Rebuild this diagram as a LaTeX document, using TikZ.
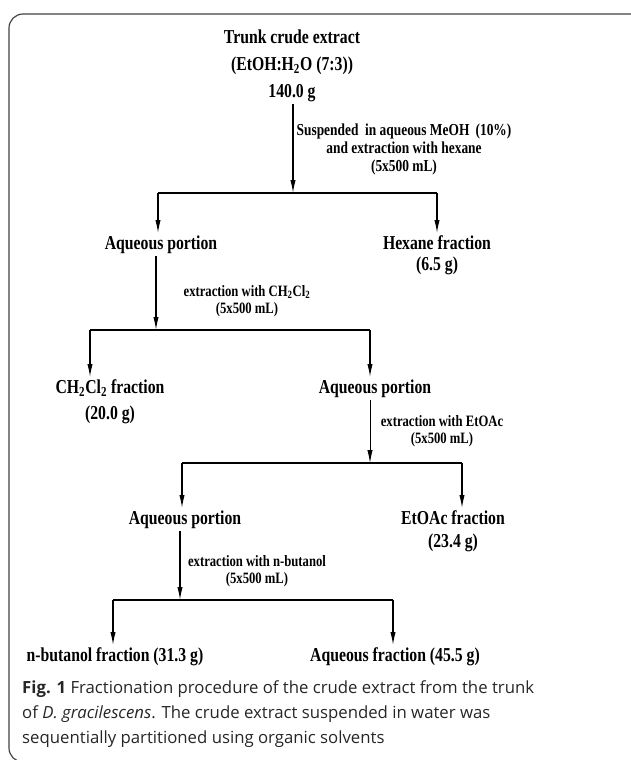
\documentclass[tikz,border=0pt]{standalone}
\usepackage{fontspec}
\setmainfont{Liberation Serif}
\newfontfamily\chartfont[FakeStretch=0.8]{Liberation Serif}
\newfontfamily\capfont{Open Sans}
\usetikzlibrary{arrows.meta,calc}

\begin{document}
\begin{tikzpicture}[x=0.03cm, y=-0.03cm,
  fraction/.style={font=\chartfont\bfseries\fontsize{16.8}{22}\selectfont, align=center, inner sep=2pt, anchor=north},
  steplabel/.style={font=\chartfont\bfseries\fontsize{13.5}{15}\selectfont, align=center, inner sep=0pt, anchor=north},
  flow/.style={-{Latex[length=11pt,width=4.5pt]}, line width=1pt},
  bar/.style={line width=1pt},
]
  \useasboundingbox (0,0) rectangle (630,760);
  % frame, cut off at the right and at the bottom
  \draw[black!75, line width=1pt, rounded corners=12pt] (9,14) rectangle (700,762);
  %
  % starting material
  \node[fraction, font=\chartfont\bfseries\fontsize{16.8}{23}\selectfont] (trunk) at (292,27)
  {Trunk crude extract\\(EtOH:H\textsubscript{2}O (7:3))\\140.0 g};
  %
  % first split: hexane
  \coordinate (s1) at (293,193);
  \coordinate (s1l) at (158,193);
  \coordinate (s1r) at (437,193);
  \draw[flow] (trunk.south -| s1) -- (s1);
  \node[steplabel, font=\chartfont\bfseries\fontsize{14.3}{15}\selectfont] (lab1) at (404,124)
  {Suspended \ in aqueous MeOH \,(10\%)\\and extraction with hexane\\(5x500 mL)};
  \draw[bar] (s1l) -- (s1r);
  \node[fraction] (aq1) at (161,233) {Aqueous portion};
  \node[fraction, font=\chartfont\bfseries\fontsize{16.8}{18}\selectfont] (hex) at (437,233) {Hexane fraction\\(6.5 g)};
  \draw[flow] (s1l) -- (s1l |- aq1.north);
  \draw[flow] (s1r) -- (s1r |- hex.north);
  %
  % second split: dichloromethane
  \coordinate (s2) at (156,330);
  \coordinate (s2l) at (90,330);
  \coordinate (s2r) at (370,330);
  \draw[flow] (aq1.south -| s2) -- (s2);
  \node[steplabel] (lab2) at (247,285) {extraction with CH\textsubscript{2}Cl\textsubscript{2}\\(5x500 mL)};
  \draw[bar] (s2l) -- (s2r);
  \node[fraction] (dcm) at (110,377) {CH\textsubscript{2}Cl\textsubscript{2} fraction\\(20.0 g)};
  \node[fraction] (aq2) at (375,377) {Aqueous portion};
  \draw[flow] (s2l) -- (s2l |- dcm.north);
  \draw[flow] (s2r) -- (s2r |- aq2.north);
  %
  % third split: ethyl acetate
  \coordinate (s3) at (370,463);
  \coordinate (s3l) at (182,463);
  \coordinate (s3r) at (462,463);
  \draw[flow, line width=0.7pt] (aq2.south -| s3) -- (s3);
  \node[steplabel] (lab3) at (442,415) {extraction with EtOAc\\(5x500 mL)};
  \draw[bar] (s3l) -- (s3r);
  \node[fraction] (aq3) at (185,508) {Aqueous portion};
  \node[fraction, font=\chartfont\bfseries\fontsize{16.8}{20}\selectfont] (etoac) at (453,508) {EtOAc fraction\\(23.4 g)};
  \draw[flow] (s3l) -- (s3l |- aq3.north);
  \draw[flow] (s3r) -- (s3r |- etoac.north);
  %
  % fourth split: n-butanol
  \coordinate (s4) at (180,600);
  \coordinate (s4l) at (113,600);
  \coordinate (s4r) at (393,600);
  \draw[flow] (aq3.south -| s4) -- (s4);
  \node[steplabel] (lab4) at (257,555) {extraction with n-butanol\\(5x500 mL)};
  \draw[bar] (s4l) -- (s4r);
  \node[fraction] (but) at (115,645) {n-butanol fraction (31.3 g)};
  \node[fraction] (aqf) at (395,645) {Aqueous fraction (45.5 g)};
  \draw[flow] (s4l) -- (s4l |- but.north);
  \draw[flow] (s4r) -- (s4r |- aqf.north);
  %
  % caption
  \node[anchor=north west, align=left, inner sep=0pt, font=\capfont\fontsize{14.3}{21.5}\selectfont, text=black!85] (cap) at (22,680)
  {\textbf{Fig. 1} Fractionation procedure of the crude extract from the trunk\\
   of \textit{D. gracilescens}. The crude extract suspended in water was\\
   sequentially partitioned using organic solvents};
\end{tikzpicture}
\end{document}
